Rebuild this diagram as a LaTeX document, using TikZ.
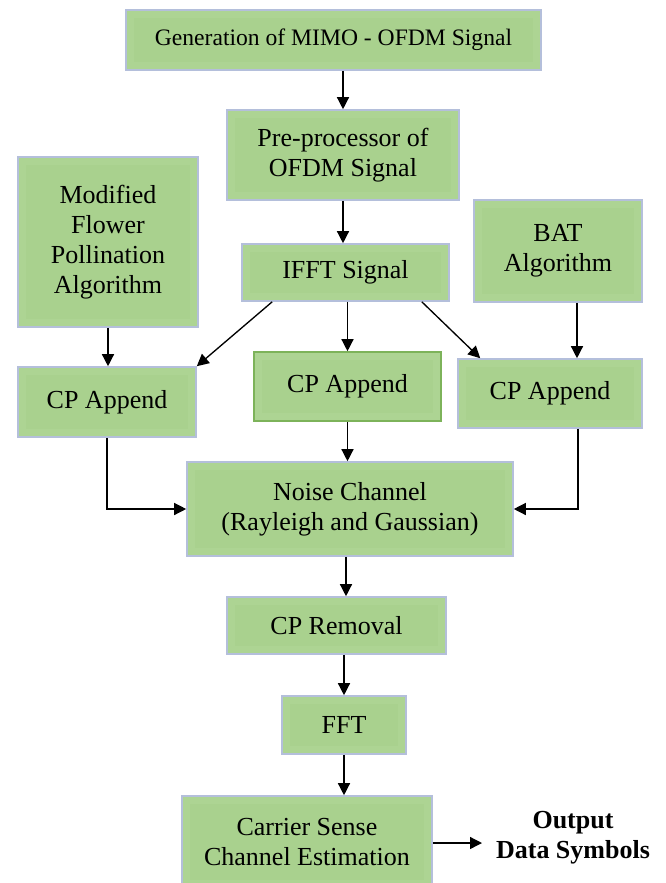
\documentclass[tikz,border=0pt]{standalone}
\usepackage{fontspec}
\setmainfont{Liberation Serif}
\usetikzlibrary{arrows.meta}
\definecolor{boxgreen}{HTML}{A9D18E}
\definecolor{boxlight}{HTML}{ADD493}
\definecolor{boxedge}{HTML}{B4BFDB}
\definecolor{cpedge}{HTML}{7DB35A}

\begin{document}
\begin{tikzpicture}[x=0.75pt,y=-0.75pt,
    blk/.style={draw=boxedge,fill=boxlight,line width=1.2pt,align=center,inner sep=2pt,
      font=\fontsize{19.5}{22.5}\selectfont,
      path picture={\fill[boxgreen] ([shift={(6pt,-6pt)}]path picture bounding box.north west)
        rectangle ([shift={(-6pt,6pt)}]path picture bounding box.south east);}},
    arr/.style={-{Triangle[length=9pt,width=9pt]},line width=1pt}]

    \useasboundingbox (0,0) rectangle (665,883);

    % 发送端
    \node[blk,minimum width=311pt,minimum height=45pt,font=\fontsize{17.7}{21}\selectfont] (gen) at (333.5,40) {Generation of MIMO - OFDM Signal};
    \node[blk,minimum width=174pt,minimum height=67.5pt] (pre) at (343,155) {Pre-processor of\\OFDM Signal};
    \node[blk,minimum width=135pt,minimum height=127.5pt] (mfpa) at (108,242) {Modified\\Flower\\Pollination\\Algorithm};
    \node[blk,minimum width=126pt,minimum height=76.5pt] (bat) at (558,251) {BAT\\Algorithm};
    \node[blk,minimum width=155.25pt,minimum height=42.75pt] (ifft) at (345.5,272.5) {IFFT Signal};

    % 循环前缀
    \node[blk,minimum width=133.5pt,minimum height=52.5pt] (cpL) at (107,402) {CP Append};
    \node[blk,draw=cpedge,minimum width=140.25pt,minimum height=51.75pt] (cpC) at (347.5,386.5) {CP Append};
    \node[blk,minimum width=138pt,minimum height=51.75pt] (cpR) at (550,393.5) {CP Append};

    % 信道与接收端
    \node[blk,minimum width=244.5pt,minimum height=70.5pt] (noise) at (350,509) {Noise Channel\\(Rayleigh and Gaussian)};
    \node[blk,minimum width=164.25pt,minimum height=42.75pt] (cprem) at (336.5,625.5) {CP Removal};
    \node[blk,minimum width=93pt,minimum height=43.5pt] (fft) at (344,725) {FFT};
    \node[blk,minimum width=187.5pt,minimum height=69pt] (carrier) at (307,842) {Carrier Sense\\Channel Estimation};
    \node[align=center,font=\fontsize{19.5}{22.5}\selectfont\bfseries] (out) at (573,838) {Output\\Data Symbols};
    \coordinate (oend) at (482,843);

    % 连线
    \draw[arr] (gen.south -| pre.north) -- (pre.north);
    \draw[arr] (pre.south) -- (pre.south |- ifft.north);
    \draw[arr] ([xshift=23.25pt]ifft.south west) -- (cpL.north east);
    \draw[arr] (ifft.south -| cpC.north) -- (cpC.north);
    \draw[arr] ([xshift=-21pt]ifft.south east) -- ([xshift=17.25pt]cpR.north west);
    \draw[arr] (mfpa.south) -- (mfpa.south |- cpL.north);
    \draw[arr] ([xshift=14.25pt]bat.south) -- ([xshift=14.25pt]bat.south |- cpR.north);
    \draw[arr] (cpL.south) |- (noise.west);
    \draw[arr] (cpC.south) -- (cpC.south |- noise.north);
    \draw[arr] ([xshift=21pt]cpR.south) |- (noise.east);
    \draw[arr] ([xshift=-3pt]noise.south) -- ([xshift=-3pt]noise.south |- cprem.north);
    \draw[arr] (cprem.south -| fft.north) -- (fft.north);
    \draw[arr] (fft.south) -- (fft.south |- carrier.north);
    \draw[arr] (carrier.east |- oend) -- (oend);

\end{tikzpicture}
\end{document}
